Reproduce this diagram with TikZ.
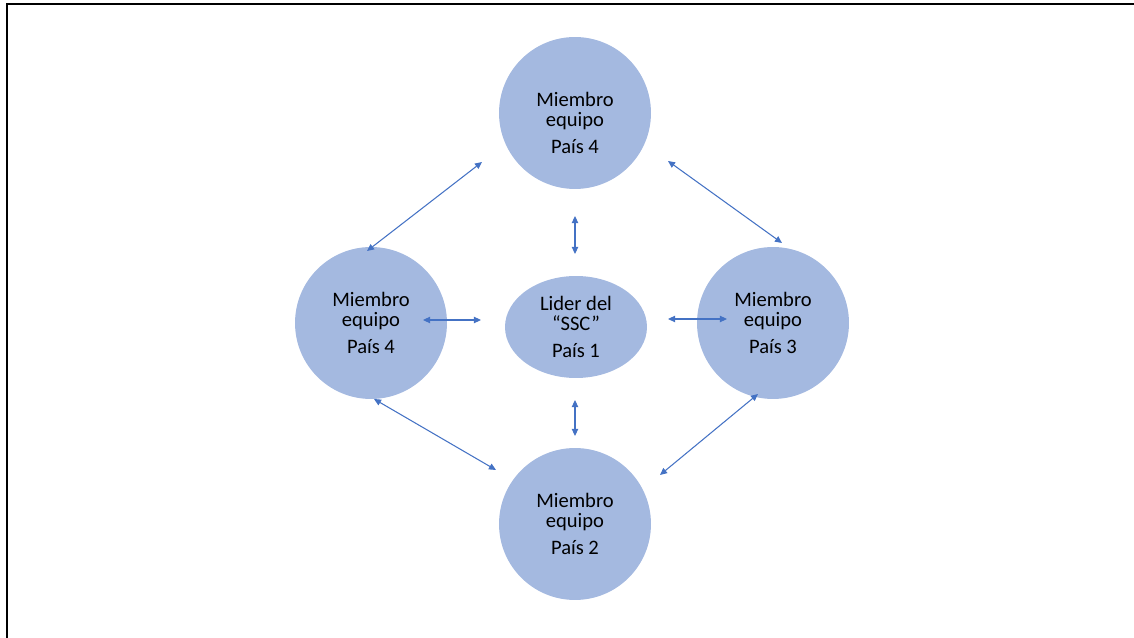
\documentclass[tikz,border=0pt]{standalone}
\usepackage{fontspec}
\setmainfont{Carlito}
\usetikzlibrary{arrows.meta,shapes.geometric}
\definecolor{nodefill}{RGB}{164,185,224}
\definecolor{linkblue}{RGB}{68,114,196}
\tikzset{
  nodetext/.style={align=center, font=\fontsize{11.7}{11}\selectfont},
  member/.style={circle, fill=nodefill, minimum size=3.04cm, inner sep=0pt, nodetext},
  leader/.style={ellipse, fill=nodefill, minimum width=2.84cm, minimum height=2.04cm,
    inner sep=0pt, nodetext},
  link/.style={draw=linkblue, line width=0.6pt,
    {Triangle[length=4pt,width=3.6pt]}-{Triangle[length=4pt,width=3.6pt]}},
  frameline/.style={line width=1.1pt}
}
\begin{document}
\begin{tikzpicture}[x=0.02cm,y=-0.02cm]
  \useasboundingbox (0,0) rectangle (1134,638);
  % outer frame (left and top edges)
  \coordinate (fb) at (7,638);
  \coordinate (fc) at (7,4);
  \coordinate (fr) at (1134,4);
  \draw[frameline] (fb) -- (fc) -- (fr);

  % team members and leader
  \node[member] (top)    at (575,113) {};
  \node[nodetext] (toptext) at (575,123) {Miembro\\equipo\\[4.6pt]País 4};
  \node[member] (left)   at (371,323) {Miembro\\equipo\\[4.6pt]País 4};
  \node[member] (right)  at (773,323) {Miembro\\equipo\\[4.6pt]País 3};
  \node[member] (bottom) at (575,524) {Miembro\\equipo\\[4.6pt]País 2};
  \node[leader] (lead)   at (576,327) {Lider del\\“SSC”\\[4.6pt]País 1};

  % connector end points
  \coordinate (tl1) at (482,162);
  \coordinate (tl2) at (367,251);
  \coordinate (tr1) at (668,161);
  \coordinate (tr2) at (782,243);
  \coordinate (tc1) at (575,216);
  \coordinate (tc2) at (575,254);
  \coordinate (cl1) at (481,320);
  \coordinate (cl2) at (423,320);
  \coordinate (cr1) at (668,319);
  \coordinate (cr2) at (727,319);
  \coordinate (cb1) at (575,400);
  \coordinate (cb2) at (575,436);
  \coordinate (lb1) at (374,399);
  \coordinate (lb2) at (496,470);
  \coordinate (rb1) at (758,394);
  \coordinate (rb2) at (660,475);

  % two-way links
  \draw[link] (tl1) -- (tl2);
  \draw[link] (tr1) -- (tr2);
  \draw[link] (tc1) -- (tc2);
  \draw[link] (cl1) -- (cl2);
  \draw[link] (cr1) -- (cr2);
  \draw[link] (cb1) -- (cb2);
  \draw[link] (lb1) -- (lb2);
  \draw[link] (rb1) -- (rb2);
\end{tikzpicture}
\end{document}
